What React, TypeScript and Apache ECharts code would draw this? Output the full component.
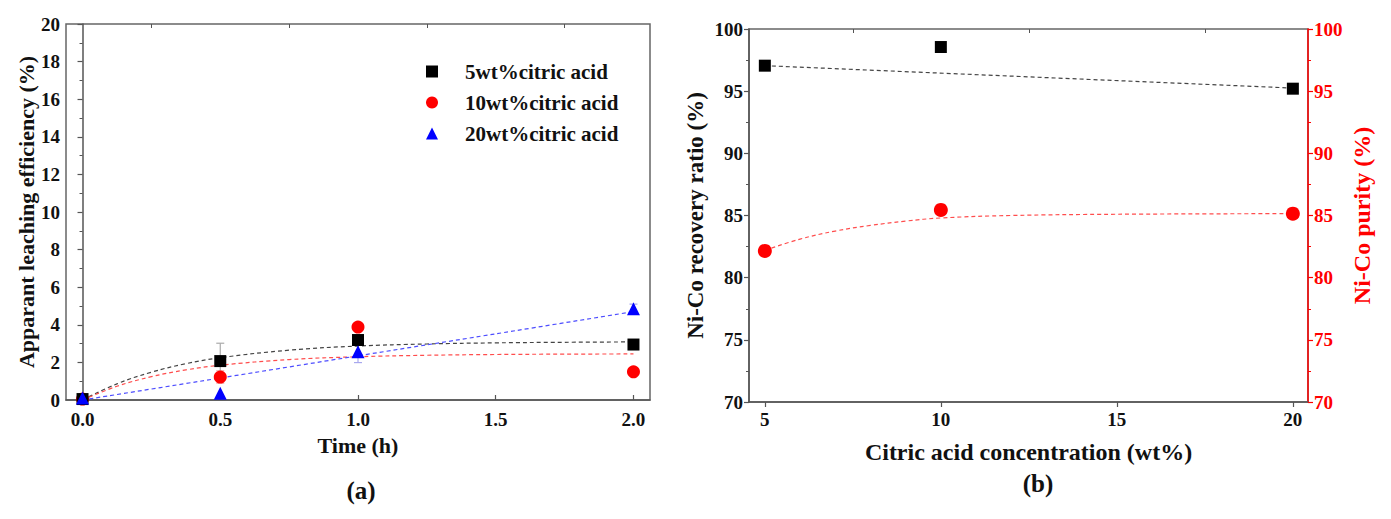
import React, { useEffect, useRef } from "react";
import * as echarts from "echarts";

// ---- Panel (a): apparent leaching efficiency vs time ----
const seriesNamesA = ["5wt%citric acid", "10wt%citric acid", "20wt%citric acid"];
const pts5wt = [[0, 0.05], [0.5, 2.07], [1.0, 3.19], [2.0, 2.95]];
const pts10wt = [[0, 0.05], [0.5, 1.22], [1.0, 3.88], [2.0, 1.5]];
const pts20wt = [[0, 0.1], [0.5, 0.36], [1.0, 2.56], [2.0, 4.86]];
// error bars: [x, low, high]
const err5wt = [[0.5, 1.12, 3.02]];
const err10wt = [[0.5, 0.9, 1.55]];
const err20wt = [[1.0, 1.99, 3.1], [2.0, 4.6, 5.1]];
// fitted (dashed) curves
const fit5wt = [[0, 0], [0.125, 0.86], [0.25, 1.48], [0.375, 1.93], [0.5, 2.25], [0.75, 2.65], [1, 2.87], [1.25, 2.98], [1.5, 3.04], [1.75, 3.07], [2, 3.09]];
const fit10wt = [[0, 0], [0.125, 0.73], [0.25, 1.24], [0.375, 1.6], [0.5, 1.85], [0.75, 2.15], [1, 2.3], [1.25, 2.38], [1.5, 2.42], [1.75, 2.44], [2, 2.45]];
const fit20wt = [[0, 0], [0.5, 1.17], [1, 2.35], [1.5, 3.52], [2, 4.7]];
const ticksA = [0, 0.5, 1, 1.5, 2];
const minorTicksA = [0.25, 0.75, 1.25, 1.75];

// ---- Panel (b): recovery ratio & purity vs citric acid concentration ----
const recoveryPts = [[5, 97.05], [10, 98.55], [20, 95.2]];
const purityPts = [[5, 82.15], [10, 85.45], [20, 85.15]];
const recoveryFit = [[5, 97.05], [20, 95.25]];
const purityFit = [[5, 82.2], [6, 83.1], [7, 83.75], [8, 84.2], [9, 84.55], [10, 84.8], [12, 85.0], [15, 85.1], [20, 85.15]];
const ticksB = [5, 10, 15, 20];
const minorTicksB = [7.5, 12.5, 17.5];

const FONT = "'Liberation Serif', 'DejaVu Serif', serif";
const AX = "#555";
const TXT = "#111";
const RED = "#ff0000";

const labelRich = (color: string) => ({
  t: { color, fontSize: 19, fontWeight: "bold", fontFamily: FONT },
});
const tickLabel = (color: string, fmt: (v: number) => string) => ({
  color,
  fontSize: 19,
  fontWeight: "bold" as const,
  fontFamily: FONT,
  rich: labelRich(color),
  formatter: (v: number) => `{t|${fmt(v)}}`,
});
const nameStyle = (color: string, size: number) => ({
  color,
  fontSize: size,
  fontWeight: "bold" as const,
  fontFamily: FONT,
});

function errRender(color: string) {
  return (params: any, api: any) => {
    const x = api.value(0);
    const lo = api.coord([x, api.value(1)]);
    const hi = api.coord([x, api.value(2)]);
    const w = 4;
    const style = { stroke: color, lineWidth: 1.2 };
    return {
      type: "group",
      children: [
        { type: "line", shape: { x1: lo[0], y1: lo[1], x2: hi[0], y2: hi[1] }, style },
        { type: "line", shape: { x1: lo[0] - w, y1: lo[1], x2: lo[0] + w, y2: lo[1] }, style },
        { type: "line", shape: { x1: hi[0] - w, y1: hi[1], x2: hi[0] + w, y2: hi[1] }, style },
      ],
    };
  };
}

export default function App() {
  const ref = useRef<HTMLDivElement>(null);
  useEffect(() => {
    if (!ref.current) return;
    const chart = echarts.init(ref.current, null, { renderer: "svg" });
    const axisLine = { show: true, lineStyle: { color: AX, width: 1.5 } };
    const f1 = (v: number) => v.toFixed(1);
    const f0 = (v: number) => String(v);
    const option: any = {
      animation: false,
      backgroundColor: "#fff",
      textStyle: { fontFamily: FONT, fontWeight: "bold", fontSize: 19, color: TXT },
      grid: [
        { left: 66, top: 24, width: 584, height: 376, show: true, borderColor: "#666", borderWidth: 1.5, backgroundColor: "transparent" },
        { left: 749, top: 29, width: 559, height: 373, show: true, borderColor: "#666", borderWidth: 1.5, backgroundColor: "transparent" },
      ],
      legend: {
        data: seriesNamesA.map((n, i) => ({ name: n, icon: ["rect", "circle", "triangle"][i] })),
        orient: "vertical",
        left: 421,
        top: 56,
        itemWidth: 12,
        itemHeight: 12,
        itemGap: 10,
        selectedMode: false,
        textStyle: { color: TXT, fontSize: 21, fontWeight: "bold", fontFamily: FONT, padding: [0, 0, 0, 22] },
      },
      xAxis: [
        {
          gridIndex: 0, type: "value", min: -0.06, max: 2.06,
          axisLine,
          axisTick: { show: true, inside: true, length: 5, customValues: ticksA, lineStyle: { color: AX, width: 1.2 } },
          axisLabel: { ...tickLabel(TXT, f1), margin: 10, customValues: ticksA },
          splitLine: { show: false },
          name: "Time (h)", nameLocation: "middle", nameGap: 34, nameTextStyle: nameStyle(TXT, 22),
        },
        {
          gridIndex: 0, type: "value", min: -0.06, max: 2.06,
          axisLine: { show: false },
          axisTick: { show: true, inside: true, length: 4, customValues: minorTicksA, lineStyle: { color: AX, width: 1 } },
          axisLabel: { show: false },
          splitLine: { show: false },
        },
        {
          gridIndex: 1, type: "value", min: 4.55, max: 20.43,
          axisLine,
          axisTick: { show: true, length: 5, customValues: ticksB, lineStyle: { color: AX, width: 1.2 } },
          axisLabel: { ...tickLabel(TXT, f0), margin: 8, customValues: ticksB },
          splitLine: { show: false },
          name: "Citric acid concentration (wt%)", nameLocation: "middle", nameGap: 38, nameTextStyle: nameStyle(TXT, 24),
        },
        {
          gridIndex: 1, type: "value", min: 4.55, max: 20.43,
          axisLine: { show: false },
          axisTick: { show: true, inside: true, length: 4, customValues: minorTicksB, lineStyle: { color: AX, width: 1 } },
          axisLabel: { show: false },
          splitLine: { show: false },
        },
      ],
      yAxis: [
        {
          gridIndex: 0, type: "value", min: 0, max: 20, interval: 2,
          axisLine,
          axisTick: { show: true, length: 5, lineStyle: { color: AX, width: 1.2 } },
          minorTick: { show: true, splitNumber: 2, length: 3, lineStyle: { color: AX, width: 1 } },
          axisLabel: { ...tickLabel(TXT, f0), margin: 6 },
          splitLine: { show: false },
          name: "Apparant leaching efficiency (%)", nameLocation: "middle", nameGap: 29, nameRotate: 90, nameTextStyle: nameStyle(TXT, 22),
        },
        {
          gridIndex: 1, type: "value", min: 70, max: 100, interval: 5,
          axisLine,
          axisTick: { show: true, length: 5, lineStyle: { color: AX, width: 1.2 } },
          minorTick: { show: true, splitNumber: 2, length: 3, lineStyle: { color: AX, width: 1 } },
          axisLabel: { ...tickLabel(TXT, f0), margin: 6 },
          splitLine: { show: false },
          name: "Ni-Co recovery ratio (%)", nameLocation: "middle", nameGap: 42, nameRotate: 90, nameTextStyle: nameStyle(TXT, 23),
        },
        {
          gridIndex: 1, type: "value", min: 70, max: 100, interval: 5, position: "right",
          axisLine: { show: true, lineStyle: { color: RED, width: 1.5 } },
          axisTick: { show: true, length: 5, lineStyle: { color: RED, width: 1.2 } },
          minorTick: { show: true, splitNumber: 2, length: 3, lineStyle: { color: RED, width: 1 } },
          axisLabel: { ...tickLabel(RED, f0), margin: 6 },
          splitLine: { show: false },
          name: "Ni-Co purity (%)", nameLocation: "middle", nameGap: 42, nameRotate: 90, nameTextStyle: nameStyle(RED, 24),
        },
      ],
      series: [
        { type: "line", xAxisIndex: 0, yAxisIndex: 0, data: fit5wt, smooth: 0.4, showSymbol: false, lineStyle: { color: "#444", width: 1.2, type: [4, 3] }, z: 2, silent: true },
        { type: "line", xAxisIndex: 0, yAxisIndex: 0, data: fit10wt, smooth: 0.4, showSymbol: false, lineStyle: { color: "#ff4d4d", width: 1.2, type: [4, 3] }, z: 2, silent: true },
        { type: "line", xAxisIndex: 0, yAxisIndex: 0, data: fit20wt, smooth: 0.3, showSymbol: false, lineStyle: { color: "#4d4dff", width: 1.2, type: [4, 3] }, z: 2, silent: true },
        { type: "custom", xAxisIndex: 0, yAxisIndex: 0, data: err5wt, renderItem: errRender("#aaa"), z: 1, silent: true },
        { type: "custom", xAxisIndex: 0, yAxisIndex: 0, data: err10wt, renderItem: errRender("#f2a0a0"), z: 1, silent: true },
        { type: "custom", xAxisIndex: 0, yAxisIndex: 0, data: err20wt, renderItem: errRender("#a8a8ee"), z: 1, silent: true },
        { name: seriesNamesA[0], type: "scatter", xAxisIndex: 0, yAxisIndex: 0, data: pts5wt, symbol: "rect", symbolSize: 12, itemStyle: { color: "#000", opacity: 1 }, z: 5 },
        { name: seriesNamesA[1], type: "scatter", xAxisIndex: 0, yAxisIndex: 0, data: pts10wt, symbol: "circle", symbolSize: 13, itemStyle: { color: "#ff0000", opacity: 1 }, z: 4 },
        { name: seriesNamesA[2], type: "scatter", xAxisIndex: 0, yAxisIndex: 0, data: pts20wt, symbol: "triangle", symbolSize: 13, itemStyle: { color: "#0000ff", opacity: 1 }, z: 6 },

        { type: "line", xAxisIndex: 2, yAxisIndex: 1, data: recoveryFit, showSymbol: false, lineStyle: { color: "#444", width: 1.2, type: [4, 3] }, z: 2, silent: true },
        { type: "line", xAxisIndex: 2, yAxisIndex: 2, data: purityFit, smooth: 0.4, showSymbol: false, lineStyle: { color: "#ff4d4d", width: 1.2, type: [4, 3] }, z: 2, silent: true },
        { name: "recovery", type: "scatter", xAxisIndex: 2, yAxisIndex: 1, data: recoveryPts, symbol: "rect", symbolSize: 12, itemStyle: { color: "#000", opacity: 1 }, z: 5 },
        { name: "purity", type: "scatter", xAxisIndex: 2, yAxisIndex: 2, data: purityPts, symbol: "circle", symbolSize: 14, itemStyle: { color: "#ff0000", opacity: 1 }, z: 5 },
      ],
      graphic: [
        { type: "text", x: 361, y: 478, style: { text: "(a)", fill: TXT, font: `bold 25px ${FONT}`, align: "center", verticalAlign: "top" } },
        { type: "text", x: 1038, y: 471, style: { text: "(b)", fill: TXT, font: `bold 25px ${FONT}`, align: "center", verticalAlign: "top" } },
      ],
    };
    chart.setOption(option);
    return () => chart.dispose();
  }, []);
  return <div ref={ref} style={{ position: "fixed", left: 0, top: 0, width: 1391, height: 519, background: "#fff" }} />;
}
